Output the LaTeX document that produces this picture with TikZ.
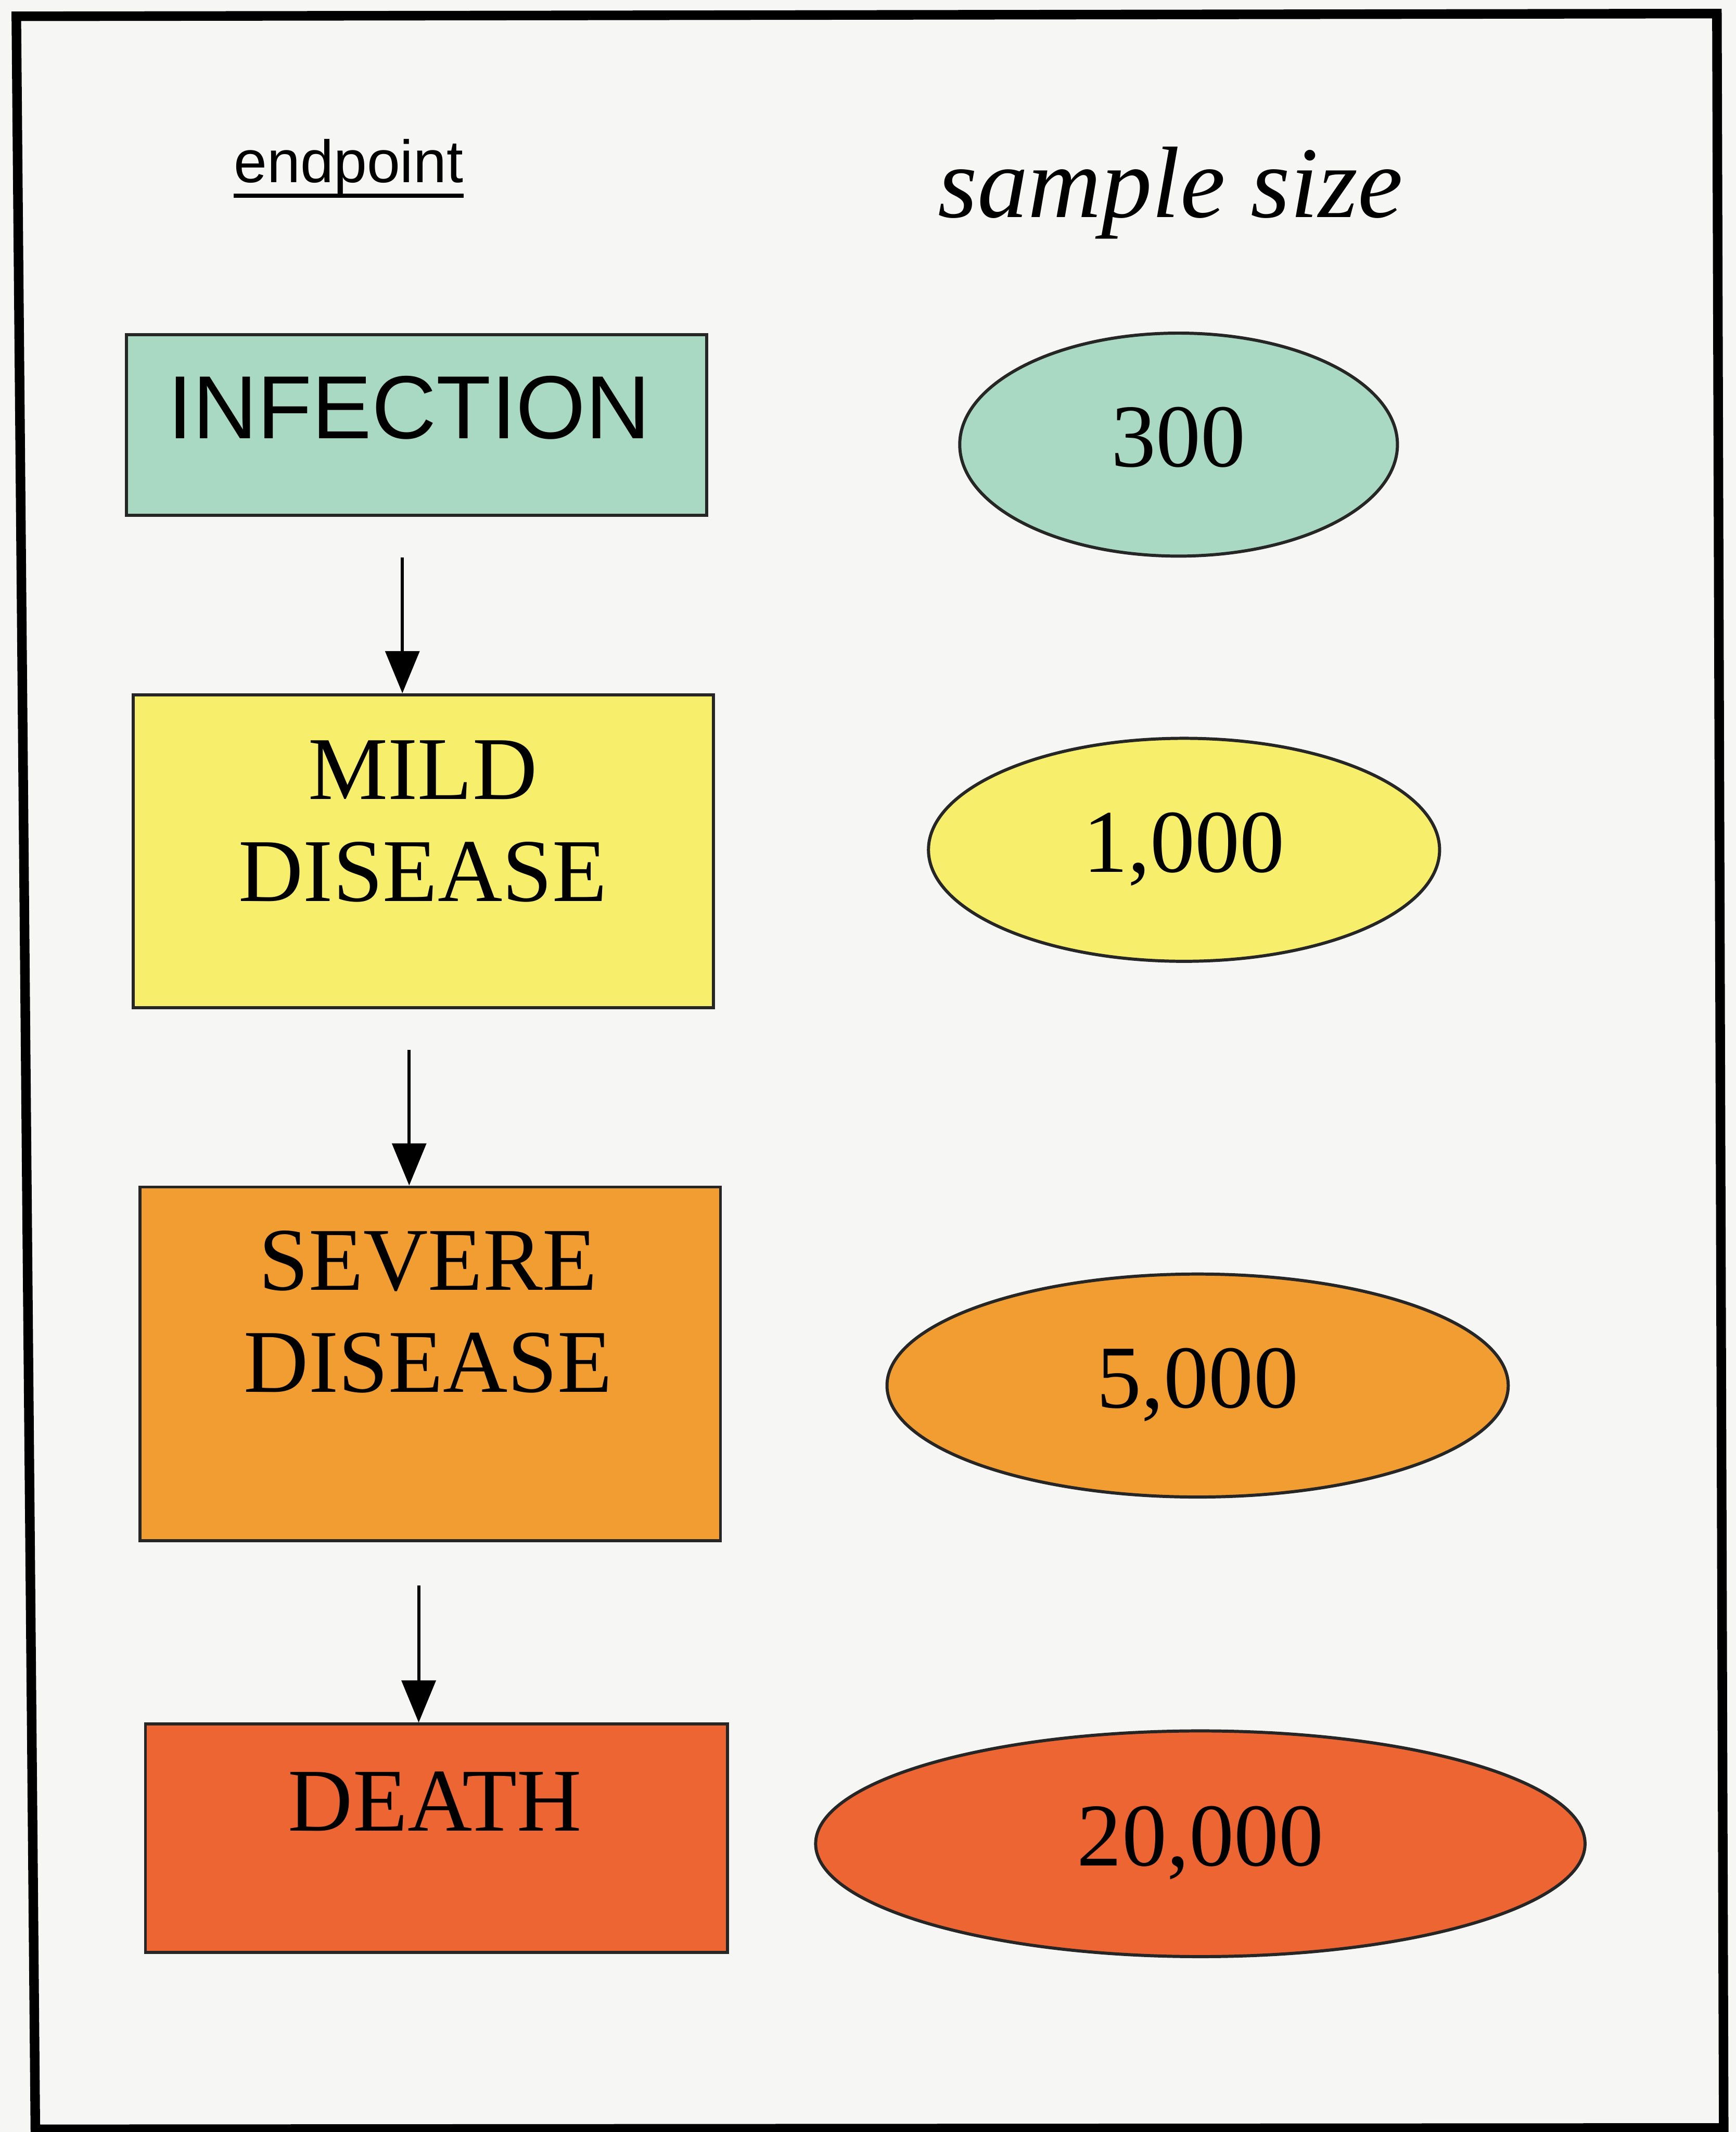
\documentclass[tikz,border=0pt]{standalone}
\usepackage{xcolor}
\usepackage{fontspec}
\usepackage{tikz}
\usetikzlibrary{shapes.geometric,arrows.meta}

\setmainfont{Liberation Serif}
\newfontfamily\arialfont{Liberation Sans}

\definecolor{paper}{HTML}{F6F6F4}
\definecolor{infcol}{HTML}{A9D9C3}
\definecolor{mildcol}{HTML}{F7EF6C}
\definecolor{sevcol}{HTML}{F29D31}
\definecolor{deathcol}{HTML}{EC6532}

\tikzset{
    stagebox/.style={draw=black!85, line width=1.3pt, rectangle, inner sep=0pt},
    stagetext/.style={align=center, font=\fontsize{37.5}{42.7}\selectfont},
    sizeoval/.style={draw=black!85, line width=1.3pt, ellipse, inner sep=0pt,
        minimum height=3.28cm, text height=0.65cm, text depth=0pt,
        font=\fontsize{37.5}{42.7}\selectfont},
    flow/.style={line width=1.3pt, -{Triangle[length=0.62cm, width=0.5cm]}}
}

\begin{document}
\begin{tikzpicture}
        \useasboundingbox (0,0) rectangle (25.54,-31.36);
        \fill[paper] (0,0) rectangle (25.54,-31.36);
        \draw[line width=4pt] (0.24,-0.24) -- (25.26,-0.2) -- (25.36,-31.3) -- (0.52,-31.32) -- cycle;

        % headings
        \node[anchor=base, inner sep=0pt, font=\arialfont\fontsize{25}{30}\selectfont] (endpoint) at (5.13,-2.68) {endpoint};
        \draw[line width=1.8pt] ([yshift=-0.2cm]endpoint.base west) -- ([yshift=-0.2cm]endpoint.base east);
        \node[anchor=base, font=\itshape\fontsize{42.5}{50}\selectfont] (samplesize) at (17.22,-3.2) {sample size};

        % endpoint boxes
        \node[stagebox, fill=infcol, minimum width=8.54cm, minimum height=2.66cm] (infection) at (6.13,-6.25) {};
        \node[stagebox, fill=mildcol, minimum width=8.54cm, minimum height=4.6cm] (mild) at (6.23,-12.52) {};
        \node[stagebox, fill=sevcol, minimum width=8.54cm, minimum height=5.2cm] (severe) at (6.33,-20.06) {};
        \node[stagebox, fill=deathcol, minimum width=8.56cm, minimum height=3.36cm] (death) at (6.42,-27.04) {};

        \node[stagetext, font=\arialfont\fontsize{37.5}{42.7}\selectfont] (infection-text) at (6.02,-6.0) {INFECTION};
        \node[stagetext] (mild-text) at (6.22,-12.08) {MILD\\DISEASE};
        \node[stagetext] (severe-text) at (6.3,-19.3) {SEVERE\\DISEASE};
        \node[stagetext] (death-text) at (6.4,-26.5) {DEATH};

        % sample sizes
        \node[sizeoval, fill=infcol, minimum width=6.44cm] (n-infection) at (17.34,-6.54) {300};
        \node[sizeoval, fill=mildcol, minimum width=7.52cm] (n-mild) at (17.42,-12.5) {1,000};
        \node[sizeoval, fill=sevcol, minimum width=9.14cm] (n-severe) at (17.62,-20.38) {5,000};
        \node[sizeoval, fill=deathcol, minimum width=11.32cm, minimum height=3.32cm] (n-death) at (17.66,-27.12) {20,000};

        % arrows
        \coordinate (a1) at (5.92,-8.2);
        \coordinate (a2) at (6.02,-15.44);
        \coordinate (a3) at (6.16,-23.32);
        \foreach \s/\t in {a1/mild,a2/severe,a3/death}
        \draw[flow] (\s) -- (\s |- \t.north);
    \end{tikzpicture}
\end{document}
